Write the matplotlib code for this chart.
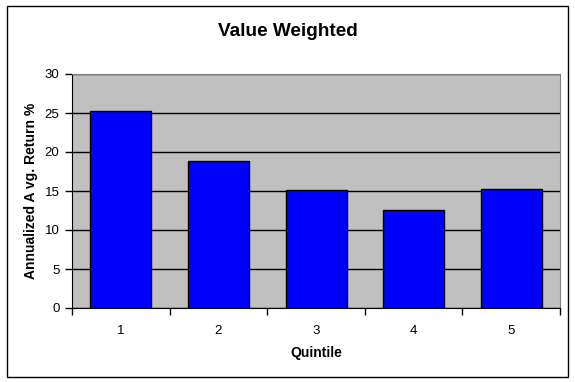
import matplotlib
matplotlib.use("Agg")
import matplotlib.pyplot as plt
from matplotlib.patches import Rectangle

categories = ["1", "2", "3", "4", "5"]
values = [25.3, 18.8, 15.1, 12.6, 15.2]
yticks = [0, 5, 10, 15, 20, 25, 30]

plt.rcParams['font.family'] = ['Liberation Sans', 'DejaVu Sans']

fig = plt.figure(figsize=(5.75, 3.82), dpi=100)
fig.patch.set_facecolor('white')
fig.add_artist(Rectangle((6.5/575, 1 - 376.5/382), (567.5-6.5)/575, (376.5-5.5)/382,
                         transform=fig.transFigure, fill=False, edgecolor='black', linewidth=1))

ax = fig.add_axes([72/575, 1 - 308/382, (560-72)/575, (308-74)/382])
ax.set_facecolor('#C0C0C0')
x = list(range(1, len(categories) + 1))
ax.bar(x, values, width=0.625, color='#0000FF', edgecolor='black', linewidth=1, zorder=3)
ax.set_xlim(0.5, len(categories) + 0.5)
ax.set_ylim(0, 30)
ax.set_yticks(yticks)
ax.set_yticklabels([str(t) for t in yticks], fontsize=9.5)
ax.yaxis.grid(True, color='black', linewidth=1, zorder=1)
ax.set_axisbelow(True)

ax.set_xticks([i + 0.5 for i in range(0, len(categories) + 1)])
ax.set_xticklabels([])
ax.set_xticks(x, minor=True)
ax.set_xticklabels(categories, minor=True, fontsize=9.5)
ax.tick_params(axis='x', which='minor', length=0, pad=12)
ax.tick_params(axis='x', which='major', length=5, direction='out', width=1)
ax.tick_params(axis='y', length=5, direction='out', width=1, pad=4)

for s in ['top', 'right']:
    ax.spines[s].set_color('#808080')
for s in ['left', 'bottom']:
    ax.spines[s].set_color('black')

ax.set_xlabel('Quintile', fontsize=10, fontweight='bold', labelpad=7)
ax.set_ylabel('Annualized A vg. Return %', fontsize=10, fontweight='bold', labelpad=5)
fig.text(288/575, 1 - 31/382, 'Value Weighted', ha='center', va='center',
         fontsize=13.7, fontweight='bold')

fig.savefig('out.png', dpi=100)
